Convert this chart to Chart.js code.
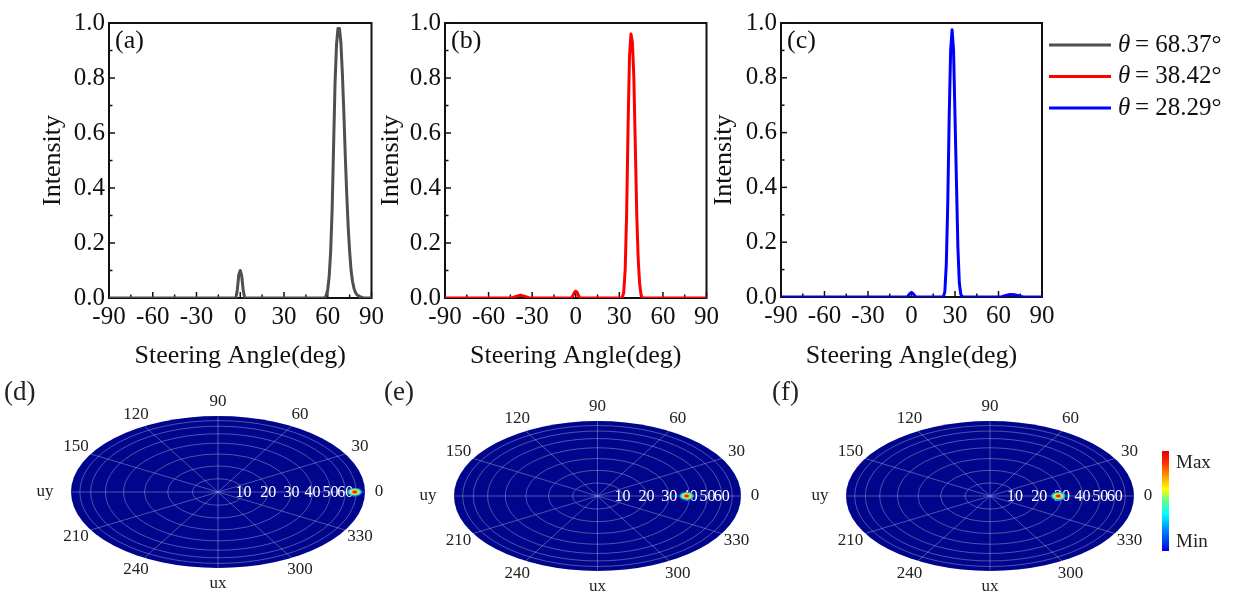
<!DOCTYPE html>
<html><head><meta charset="utf-8">
<script src="https://cdn.jsdelivr.net/npm/chart.js@4.4.1/dist/chart.umd.min.js"></script>
<style>
body{margin:0;background:#fff;}
#wrap{position:relative;width:1235px;height:591px;overflow:hidden;background:#fff;}
canvas{position:absolute;}
</style></head><body><div id="wrap"></div>
<script>
const FONT = 'Liberation Serif';
const TXT = '#111';

// ---- data ----
const thetaLabels = ['68.37', '38.42', '28.29'];
const steerTheta = [68.37, 38.42, 28.29];
const seriesColors = ['#4f4f4f', '#ff0000', '#0000ff'];
const panelTop = ['(a)', '(b)', '(c)'];
const panelBottom = ['(d)', '(e)', '(f)'];
const xTicks = [-90, -60, -30, 0, 30, 60, 90];
const yTicks = [0, 0.2, 0.4, 0.6, 0.8, 1.0];

const angleA = [-90, -3, -2, -1, 0, 1, 2, 3,
  58, 59, 60, 61, 62, 63, 64, 65, 66, 67, 68, 69, 70, 71, 72, 73, 74, 75, 76, 77, 78, 79, 80,
  82, 84, 86, 90];
const intensityA = [0, 0, 0.03, 0.085, 0.1, 0.08, 0.03, 0,
  0, 0.01, 0.03, 0.08, 0.17, 0.32, 0.55, 0.78, 0.92, 0.98, 0.98, 0.93, 0.82, 0.68, 0.52, 0.38, 0.26, 0.17, 0.1, 0.06, 0.035, 0.02, 0.012,
  0.005, 0.001, 0, 0];

const angleB = [-90, -44, -41, -38, -35, -32, -3, -2, -1, 0, 1, 2, 3,
  32, 33, 34, 35, 36, 37, 38, 39, 40, 41, 42, 43, 44, 45, 46, 90];
const intensityB = [0, 0, 0.006, 0.01, 0.006, 0, 0, 0.008, 0.02, 0.025, 0.02, 0.008, 0,
  0, 0.02, 0.1, 0.3, 0.62, 0.88, 0.96, 0.93, 0.8, 0.55, 0.3, 0.14, 0.05, 0.01, 0, 0];

const angleC = [-90, -3, -2, -1, 0, 1, 2, 3,
  22, 23, 24, 25, 26, 27, 28, 29, 30, 31, 32, 33, 34, 35,
  62, 65, 68, 71, 74, 77, 90];
const intensityC = [0, 0, 0.006, 0.013, 0.016, 0.013, 0.006, 0,
  0, 0.02, 0.12, 0.34, 0.66, 0.9, 0.975, 0.9, 0.66, 0.42, 0.18, 0.05, 0.01, 0,
  0, 0.006, 0.009, 0.008, 0.005, 0, 0];

const polarAngleTicks = [0, 30, 60, 90, 120, 150, 180, 210, 240, 270, 300, 330];
const polarAngleText = ['0', '30', '60', '90', '120', '150', 'uy', '210', '240', 'ux', '300', '330'];
const polarRings = [10, 20, 30, 40, 50, 60, 70];
const polarRingLabels = [10, 20, 30, 40, 50, 60];
const colorbarText = ['Max', 'Min'];

// ---- helpers ----
function makeCanvas(l, t, w, h) {
  const c = document.createElement('canvas');
  c.width = w; c.height = h;
  c.style.left = l + 'px'; c.style.top = t + 'px';
  c.style.width = w + 'px'; c.style.height = h + 'px';
  document.getElementById('wrap').appendChild(c);
  return c;
}

const frameTicks = {
  id: 'frameTicks',
  beforeDatasetsDraw(chart) {
    const {ctx, chartArea: a, scales: {x, y}} = chart;
    ctx.save();
    ctx.strokeStyle = '#111';
    ctx.lineWidth = 2;
    ctx.strokeRect(a.left, a.top, a.right - a.left, a.bottom - a.top);
    ctx.lineWidth = 1.5;
    for (let k = 0; k < xTicks.length; k++) {
      const vals = [xTicks[k]];
      if (k < xTicks.length - 1) vals.push((xTicks[k] + xTicks[k + 1]) / 2);
      vals.forEach((v, j) => {
        const px = x.getPixelForValue(v);
        const len = j === 0 ? 6 : 3.5;
        ctx.beginPath(); ctx.moveTo(px, a.bottom); ctx.lineTo(px, a.bottom - len); ctx.stroke();
      });
    }
    for (let k = 0; k < yTicks.length; k++) {
      const vals = [yTicks[k]];
      if (k < yTicks.length - 1) vals.push((yTicks[k] + yTicks[k + 1]) / 2);
      vals.forEach((v, j) => {
        const py = y.getPixelForValue(v);
        const len = j === 0 ? 6 : 3.5;
        ctx.beginPath(); ctx.moveTo(a.left, py); ctx.lineTo(a.left + len, py); ctx.stroke();
      });
    }
    ctx.restore();
  },
  afterDraw(chart, args, opts) {
    const {ctx, chartArea: a} = chart;
    ctx.save();
    ctx.fillStyle = TXT;
    ctx.font = '26px "' + FONT + '"';
    ctx.textBaseline = 'middle';
    ctx.textAlign = 'left';
    ctx.fillText(opts.label, a.left + 6, a.top + 18);
    if (opts.legend) {
      const L = opts.canvasLeft;
      for (let i = 0; i < thetaLabels.length; i++) {
        const yy = 45 + 31.5 * i;
        ctx.strokeStyle = seriesColors[i];
        ctx.lineWidth = 3;
        ctx.beginPath(); ctx.moveTo(1049 - L, yy); ctx.lineTo(1111 - L, yy); ctx.stroke();
        ctx.font = 'italic 25px "' + FONT + '"';
        ctx.fillText('θ', 1118 - L, yy);
        ctx.font = '25px "' + FONT + '"';
        ctx.fillText('= ' + thetaLabels[i] + '°', 1135 - L, yy);
      }
    }
    ctx.restore();
  }
};

function topChart(i, L, CL, CR, TX, bottom, padRight, xs, ys, legend) {
  const H = 372;
  const W = CR - L + padRight;
  const c = makeCanvas(L, 0, W, H);
  const padLeft = TX - 15.6 - L;
  new Chart(c, {
    type: 'scatter',
    data: {datasets: [{
      data: xs.map((v, k) => ({x: v, y: ys[k]})),
      showLine: true, borderColor: seriesColors[i], borderWidth: 3,
      borderJoinStyle: 'round', borderCapStyle: 'round',
      pointRadius: 0, tension: 0, fill: false
    }]},
    options: {
      responsive: false, animation: false, devicePixelRatio: 1,
      layout: {padding: {left: padLeft, top: 23, right: padRight, bottom: 0}},
      plugins: {
        legend: {display: false}, tooltip: {enabled: false},
        frameTicks: {label: panelTop[i], legend: legend, canvasLeft: L}
      },
      scales: {
        x: {
          type: 'linear', min: -90, max: 90,
          afterBuildTicks(s) { s.ticks = xTicks.map(v => ({value: v})); },
          afterFit(s) { s.height = H - bottom; },
          grid: {display: false, drawTicks: false}, border: {display: false},
          ticks: {font: {family: FONT, size: 25}, color: TXT, padding: 4, maxRotation: 0, autoSkip: false, callback: v => String(v)},
          title: {display: true, text: 'Steering Angle(deg)', font: {family: FONT, size: 26}, color: TXT, padding: 0}
        },
        y: {
          type: 'linear', min: 0, max: 1,
          afterBuildTicks(s) { s.ticks = yTicks.map(v => ({value: v})); },
          afterFit(s) { s.width = CL - L - padLeft; },
          grid: {display: false, drawTicks: false}, border: {display: false},
          ticks: {font: {family: FONT, size: 25}, color: TXT, padding: 4, callback: v => Number(v).toFixed(1)},
          title: {display: true, text: 'Intensity', font: {family: FONT, size: 26}, color: TXT, padding: 0}
        }
      }
    },
    plugins: [frameTicks]
  });
}

topChart(0, 0, 109, 372, 53, 298, 16, angleA, intensityA, false);
topChart(1, 365, 445, 707, 391, 298, 16, angleB, intensityB, false);
topChart(2, 700, 781, 1042, 724, 297, 193, angleC, intensityC, true);

// ---- polar panels ----
function spotImage() {
  const c = document.createElement('canvas');
  c.width = 16; c.height = 9;
  const g = c.getContext('2d');
  g.translate(8, 4.5);
  g.scale(1, 0.56);
  const gr = g.createRadialGradient(0, 0, 0, 0, 0, 8);
  gr.addColorStop(0, '#b00000');
  gr.addColorStop(0.2, '#ff1000');
  gr.addColorStop(0.36, '#ffa000');
  gr.addColorStop(0.48, '#ffff00');
  gr.addColorStop(0.6, '#70ff90');
  gr.addColorStop(0.72, '#00e8ff');
  gr.addColorStop(0.88, '#2a70ff');
  gr.addColorStop(1, 'rgba(0,5,140,0.2)');
  g.fillStyle = gr;
  g.beginPath(); g.arc(0, 0, 8, 0, Math.PI * 2); g.fill();
  return c;
}
const SPOT = spotImage();

const polarPlugin = {
  id: 'polarPlugin',
  beforeDatasetsDraw(chart) {
    const {ctx, scales: {x, y}} = chart;
    const cx = x.getPixelForValue(0), cy = y.getPixelForValue(0);
    const rx = x.getPixelForValue(1) - cx, ry = cy - y.getPixelForValue(1);
    ctx.save();
    ctx.fillStyle = '#00058c';
    ctx.beginPath(); ctx.ellipse(cx, cy, rx, ry, 0, 0, Math.PI * 2); ctx.fill();
    ctx.strokeStyle = 'rgba(190,195,225,0.5)';
    ctx.lineWidth = 0.8;
    polarRings.forEach(d => {
      const r = Math.sin(d * Math.PI / 180);
      ctx.beginPath(); ctx.ellipse(cx, cy, rx * r, ry * r, 0, 0, Math.PI * 2); ctx.stroke();
    });
    polarAngleTicks.forEach(d => {
      const t = d * Math.PI / 180;
      ctx.beginPath(); ctx.moveTo(cx, cy);
      ctx.lineTo(cx + Math.cos(t) * rx, cy - Math.sin(t) * ry); ctx.stroke();
    });
    ctx.fillStyle = '#ffffff';
    ctx.font = '16px "' + FONT + '"';
    ctx.textAlign = 'center'; ctx.textBaseline = 'middle';
    polarRingLabels.forEach(d => {
      ctx.fillText(String(d), cx + Math.sin(d * Math.PI / 180) * rx, cy + 1);
    });
    ctx.restore();
  },
  afterDraw(chart, args, opts) {
    const {ctx, scales: {x, y}} = chart;
    const cx = x.getPixelForValue(0), cy = y.getPixelForValue(0);
    const rx = x.getPixelForValue(1) - cx, ry = cy - y.getPixelForValue(1);
    ctx.save();
    ctx.fillStyle = '#222';
    ctx.font = '17px "' + FONT + '"';
    ctx.textAlign = 'center'; ctx.textBaseline = 'middle';
    polarAngleTicks.forEach((d, k) => {
      const t = d * Math.PI / 180;
      let px = cx + Math.cos(t) * (rx + 17), py = cy - Math.sin(t) * (ry + 14);
      if (d === 0) px = cx + rx + 14;
      if (d === 180) px = cx - rx - 26;
      if (d === 270) py = cy + ry + 16;
      ctx.fillText(polarAngleText[k], px, py);
    });
    ctx.font = '27px "' + FONT + '"';
    ctx.textAlign = 'left';
    ctx.fillText(opts.label, opts.lx, opts.ly);
    if (opts.colorbar) {
      const L = opts.canvasLeft, T = opts.canvasTop;
      const g = ctx.createLinearGradient(0, 451 - T, 0, 551 - T);
      g.addColorStop(0, '#e00000');
      g.addColorStop(0.12, '#ff3000');
      g.addColorStop(0.28, '#ffb000');
      g.addColorStop(0.38, '#ffff00');
      g.addColorStop(0.5, '#60ff90');
      g.addColorStop(0.63, '#00ffff');
      g.addColorStop(0.8, '#0080ff');
      g.addColorStop(1, '#0000e0');
      ctx.fillStyle = g;
      ctx.fillRect(1162 - L, 451 - T, 7, 100);
      ctx.fillStyle = '#222';
      ctx.font = '19px "' + FONT + '"';
      ctx.fillText(colorbarText[0], 1176 - L, 463 - T);
      ctx.fillText(colorbarText[1], 1176 - L, 542 - T);
    }
    ctx.restore();
  }
};

function polarChart(i, L, T, W, H, cx, cy, a, b, labelX, colorbar) {
  const c = makeCanvas(L, T, W, H);
  const lx = cx - L, ly = cy - T;
  const spotX = Math.sin(steerTheta[i] * Math.PI / 180);
  new Chart(c, {
    type: 'scatter',
    data: {datasets: [
      {data: [{x: spotX, y: 0}], pointStyle: SPOT, pointRadius: 6},
      {data: [{x: 0, y: 0}], pointStyle: 'circle', pointRadius: 1.3, backgroundColor: '#2a9cff', borderWidth: 0}
    ]},
    options: {
      responsive: false, animation: false, devicePixelRatio: 1,
      layout: {padding: {left: lx - a, right: W - (lx + a), top: ly - b, bottom: H - (ly + b)}},
      scales: {
        x: {type: 'linear', min: -1, max: 1, display: false},
        y: {type: 'linear', min: -1, max: 1, display: false}
      },
      plugins: {
        legend: {display: false}, tooltip: {enabled: false},
        polarPlugin: {label: panelBottom[i], lx: labelX - L, ly: 393 - T, colorbar: colorbar, canvasLeft: L, canvasTop: T}
      }
    },
    plugins: [polarPlugin]
  });
}

polarChart(0, 0, 378, 400, 213, 218, 492, 147, 76, 4, false);
polarChart(1, 380, 378, 400, 213, 597.5, 496, 143.5, 75, 384, false);
polarChart(2, 760, 378, 475, 213, 990, 496, 144, 75, 772, true);
</script></body></html>
